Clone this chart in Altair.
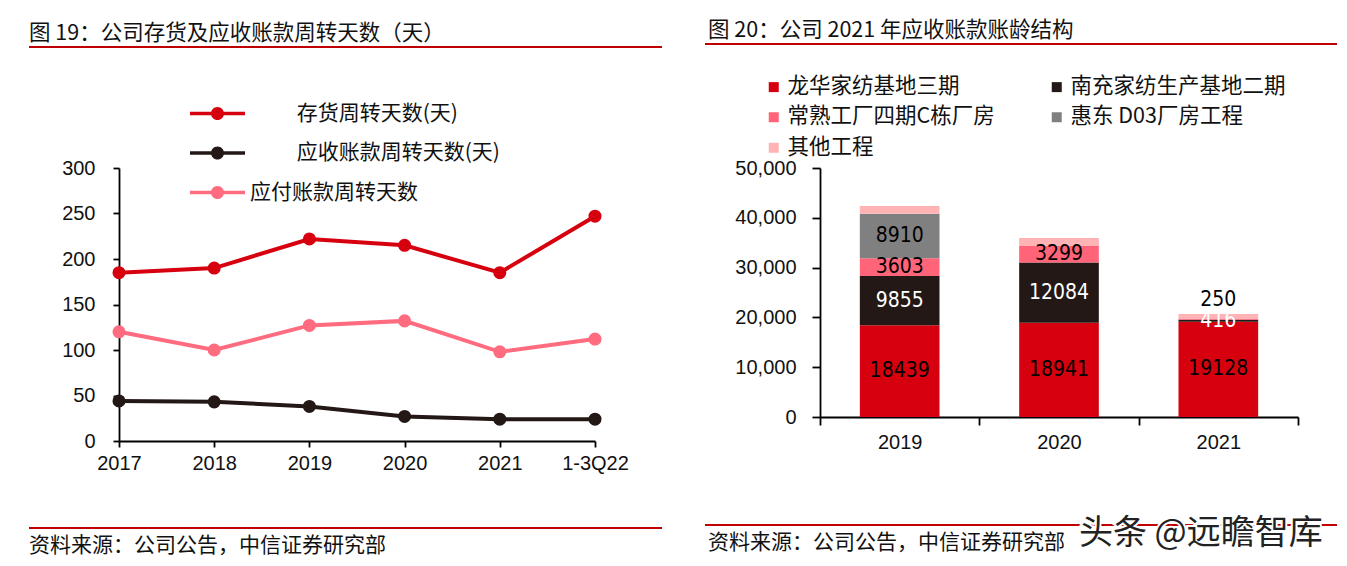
import altair as alt
import pandas as pd

# ---------------- left chart data ----------------
periods = ["2017", "2018", "2019", "2020", "2021", "1-3Q22"]
inventory_days = [185, 190, 222, 215, 185, 247]
receivable_days = [44, 43, 38, 27, 24, 24]
payable_days = [120, 100, 127, 132, 98, 112]
line_series = ["存货周转天数(天)", "应收账款周转天数(天)", "应付账款周转天数"]
line_colors = ["#D7000F", "#231815", "#FF6B7F"]
left_y_ticks = [0, 50, 100, 150, 200, 250, 300]

# ---------------- right chart data ----------------
years = ["2019", "2020", "2021"]
longhua = [18439, 18941, 19128]
nanchong = [9855, 12084, 416]
changshu = [3603, 3299, 250]
huidong = [8910, 0, 0]
others = [1550, 1600, 900]
bar_series = ["龙华家纺基地三期", "南充家纺生产基地二期", "常熟工厂四期C栋厂房", "惠东 D03厂房工程", "其他工程"]
bar_colors = ["#D7000F", "#231815", "#FF6479", "#808080", "#FFB3B5"]
right_y_ticks = [0, 10000, 20000, 30000, 40000, 50000]

title_left = "图 19：公司存货及应收账款周转天数（天）"
title_right = "图 20：公司 2021 年应收账款账龄结构"
source_text = "资料来源：公司公告，中信证券研究部"
watermark = "头条 @远瞻智库"

CJK = "Noto Sans CJK SC"
LAT = "Liberation Sans"
NUM = "DejaVu Sans Condensed, Liberation Sans Narrow, Liberation Sans"
RULE = "#C00000"

# ---------------- build tables ----------------
rows = []
for s, vals in zip(line_series, [inventory_days, receivable_days, payable_days]):
    for p, v in zip(periods, vals):
        rows.append({"period": p, "lseries": s, "days": v})
line_df = pd.DataFrame(rows)

rows = []
for i, (s, vals) in enumerate(zip(bar_series, [longhua, nanchong, changshu, huidong, others])):
    for y, v in zip(years, vals):
        rows.append({"year": y, "bseries": s, "amount": v, "idx": i})
bar_df = pd.DataFrame(rows)

one = pd.DataFrame({"a": [0]})


def deco_text(txt, x, y, size, font=CJK, color="#111"):
    return alt.Chart(one).mark_text(align="left", baseline="middle", font=font,
                                    fontSize=size, color=color).encode(
        x=alt.value(x), y=alt.value(y), text=alt.value(txt))


def deco_rule(x1, x2, y):
    return alt.Chart(one).mark_rule(color=RULE, strokeWidth=2.2).encode(
        x=alt.value(x1), x2=alt.value(x2), y=alt.value(y))


# ---------------- left panel ----------------
LW, LH = 476, 273
lx = alt.X("period:N", sort=periods, scale=alt.Scale(type="point", padding=0),
           axis=alt.Axis(title=None, labelAngle=0, tickSize=6, labelPadding=6,
                         labelFont=LAT, labelFontSize=20))
ly = alt.Y("days:Q", scale=alt.Scale(domain=[0, 300], nice=False),
           axis=alt.Axis(title=None, values=left_y_ticks, tickSize=6, labelPadding=18,
                         labelFont=LAT, labelFontSize=20, grid=False))
lcolor_scale = alt.Scale(domain=line_series, range=line_colors)

legend_path = ("M-3.93,-0.25L3.93,-0.25L3.93,0.25L-3.93,0.25Z "
               "M-0.93,0A0.93,0.93 0 1,1 0.93,0A0.93,0.93 0 1,1 -0.93,0Z")
pad = "\u200b\u3000\u3000\u00a0"
left_legend = alt.Legend(
    title=None, orient="none", legendX=88, legendY=-65, direction="vertical",
    symbolType=legend_path, symbolSize=196, symbolStrokeWidth=0, symbolOpacity=1,
    labelFont=CJK, labelFontSize=21, labelColor="#111", labelOffset=22,
    rowPadding=17.5, padding=0, labelLimit=400,
    labelExpr=f"indexof(datum.value, '应付') >= 0 ? datum.value : '{pad}' + datum.value",
)
lcolor = alt.Color("lseries:N", scale=lcolor_scale, sort=line_series, legend=left_legend)

lbase = alt.Chart(line_df).encode(x=lx, y=ly, color=lcolor)
lines = lbase.mark_line(strokeWidth=4)
points = lbase.mark_point(size=170, filled=True, opacity=1)

left = alt.layer(
    lines, points,
    deco_text(title_left, -90, -134, 21.5),
    deco_rule(-90, 543, -121),
    deco_rule(-90, 543, 360),
    deco_text(source_text, -90, 378, 21),
).properties(width=LW, height=LH)

# ---------------- right panel ----------------
RW, RH = 478, 249
rx_axis = alt.Axis(title=None, labelAngle=0, tickSize=8, labelPadding=7, tickBand="extent",
                   labelFont=LAT, labelFontSize=20)
ry_axis = alt.Axis(title=None, values=right_y_ticks, format=",d", tickSize=8, labelPadding=16,
                   labelFont=LAT, labelFontSize=20, grid=False)
rx_scale = alt.Scale(paddingInner=0, paddingOuter=0)
ry_scale = alt.Scale(domain=[0, 50000], nice=False)
right_legend = alt.Legend(
    title=None, orient="none", legendX=-57, legendY=-92, columns=2, direction="horizontal",
    symbolType="square", symbolSize=100, symbolStrokeWidth=0, symbolOpacity=1,
    labelFont=CJK, labelFontSize=21.5, labelColor="#111", labelOffset=3,
    rowPadding=7.5, columnPadding=51, padding=0, labelLimit=400,
)

bars = alt.Chart(bar_df).mark_bar(width=alt.RelativeBandSize(0.5)).encode(
    x=alt.X("year:N", sort=years, scale=rx_scale, axis=rx_axis),
    y=alt.Y("amount:Q", stack="zero", scale=ry_scale, axis=ry_axis),
    color=alt.Color("bseries:N", sort=bar_series,
                    scale=alt.Scale(domain=bar_series, range=bar_colors), legend=right_legend),
    order=alt.Order("idx:Q", sort="ascending"),
)

label_base = alt.Chart(bar_df).transform_stack(
    stack="amount", groupby=["year"], as_=["v0", "v1"], sort=[alt.SortField("idx", order="ascending")]
).transform_filter(
    "datum.amount > 0 && datum.bseries != '其他工程'"
).transform_calculate(mid="(datum.v0 + datum.v1) / 2")

label_color = alt.condition(alt.datum.bseries == "南充家纺生产基地二期",
                            alt.value("white"), alt.value("black"))
lab_x = alt.X("year:N", sort=years, scale=rx_scale, axis=rx_axis)
lab_y = alt.Y("mid:Q", scale=ry_scale, axis=ry_axis)
labels_main = label_base.transform_filter("datum.amount >= 300").mark_text(
    font=NUM, fontSize=21, baseline="middle").encode(
    x=lab_x, y=lab_y, text="amount:Q", color=label_color)
labels_small = label_base.transform_filter("datum.amount < 300").mark_text(
    font=NUM, fontSize=21, baseline="middle", dy=-19).encode(
    x=lab_x, y=lab_y, text="amount:Q", color=label_color)

wm_halo = alt.Chart(one).mark_text(align="left", baseline="middle", font=CJK, fontSize=34,
                                   color="white", stroke="white", strokeWidth=4).encode(
    x=alt.value(259), y=alt.value(366), text=alt.value(watermark))
wm = deco_text(watermark, 259, 366, 34, color="#222")

right = alt.layer(
    bars, labels_main, labels_small,
    deco_text(title_right, -112, -137, 21.5),
    deco_rule(-115, 517, -124),
    deco_rule(-115, 517, 357),
    deco_text(source_text, -112, 375, 21),
    wm_halo, wm,
).properties(width=RW, height=RH)

chart = alt.hconcat(left, right, spacing=39).resolve_scale(
    color="independent", x="independent", y="independent"
).resolve_legend(color="independent").properties(
    padding={"left": 19, "top": 12, "right": 0, "bottom": 6}
).configure_view(stroke=None).configure_axis(
    domainColor="black", tickColor="black", labelColor="#111",
    domainWidth=1.8, tickWidth=1.8,
)

chart.save("out.html", embed_options={"renderer": "svg", "actions": False})
